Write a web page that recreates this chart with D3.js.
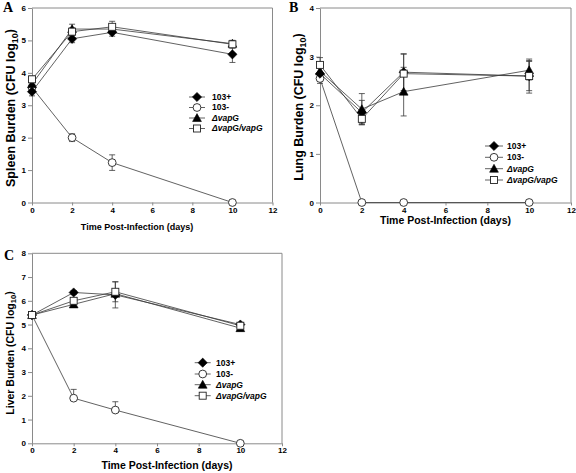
<!DOCTYPE html>
<html>
<head>
<meta charset="utf-8">
<script src="https://cdn.jsdelivr.net/npm/d3@7"></script>
<style>
  html, body { margin: 0; padding: 0; background: #fff; }
  svg { display: block; }
  text { font-family: "Liberation Sans", Arial, sans-serif; font-weight: bold; fill: #000; }
</style>
</head>
<body>
<svg id="chart" width="576" height="473"></svg>
<script>
// ---------- data ----------
const days = [0, 2, 4, 10];
const xTicks = [0, 2, 4, 6, 8, 10, 12];
const seriesNames = ["103+", "103-", "\u0394vapG", "\u0394vapG/vapG"];

// Spleen (panel A)
const spleenPlus = [3.42, 5.05, 5.25, 4.57];
const spleenPlusErr = [0.13, 0.12, 0.12, 0.25];
const spleenMinus = [3.55, 2.0, 1.23, 0];
const spleenMinusErr = [0.08, 0.12, 0.24, 0];
const spleenDel = [3.65, 5.35, 5.35, 4.9];
const spleenDelErr = [0.1, 0.15, 0.1, 0.1];
const spleenComp = [3.8, 5.27, 5.42, 4.88];
const spleenCompErr = [0.1, 0.12, 0.17, 0.12];
const spleenYTicks = [0, 1, 2, 3, 4, 5, 6];

// Lung (panel B)
const lungPlus = [2.65, 1.85, 2.68, 2.6];
const lungPlusErr = [0.15, 0.25, 0.38, 0.3];
const lungMinus = [2.55, 0, 0, 0];
const lungMinusErr = [0.1, 0, 0, 0];
const lungDel = [2.7, 1.92, 2.28, 2.72];
const lungDelErr = [0.12, 0.32, 0.5, 0.2];
const lungComp = [2.83, 1.72, 2.65, 2.6];
const lungCompErr = [0.15, 0.1, 0.4, 0.35];
const lungYTicks = [0, 1, 2, 3, 4];

// Liver (panel C)
const liverPlus = [5.4, 6.35, 6.25, 5.0];
const liverPlusErr = [0.08, 0.08, 0.55, 0.08];
const liverMinus = [5.4, 1.9, 1.4, 0];
const liverMinusErrUp = [0.08, 0.37, 0.35, 0];
const liverMinusErrDown = [0.08, 0, 0, 0];
const liverDel = [5.4, 5.85, 6.3, 4.85];
const liverDelErr = [0.08, 0.08, 0.1, 0.12];
const liverComp = [5.4, 6.0, 6.38, 4.95];
const liverCompErr = [0.08, 0.1, 0.42, 0.12];
const liverYTicks = [0, 1, 2, 3, 4, 5, 6, 7, 8];

// ---------- drawing ----------
const svg = d3.select("#chart");
const LINE = "#3a3a3a";
const AXIS = "#8a8a8a";

function marker(g, type, x, y) {
  if (type === 0) {
    const s = 4.6;
    g.append("path").attr("d", `M${x},${y - s}L${x + s},${y}L${x},${y + s}L${x - s},${y}Z`)
      .attr("fill", "#000").attr("stroke", "#000").attr("stroke-width", 0.6);
  } else if (type === 1) {
    g.append("circle").attr("cx", x).attr("cy", y).attr("r", 3.9)
      .attr("fill", "#fff").attr("stroke", "#222").attr("stroke-width", 0.9);
  } else if (type === 2) {
    const s = 4.4;
    g.append("path").attr("d", `M${x},${y - s}L${x + s},${y + s * 0.8}L${x - s},${y + s * 0.8}Z`)
      .attr("fill", "#000").attr("stroke", "#000").attr("stroke-width", 0.6);
  } else {
    const s = 3.5;
    g.append("rect").attr("x", x - s).attr("y", y - s).attr("width", 2 * s).attr("height", 2 * s)
      .attr("fill", "#fff").attr("stroke", "#222").attr("stroke-width", 0.9);
  }
}

function panel(cfg) {
  const x = d3.scaleLinear().domain([0, 12]).range([cfg.left, cfg.right]);
  const y = d3.scaleLinear().domain([0, cfg.yMax]).range([cfg.bottom, cfg.top]);
  const g = svg.append("g");

  // frame (top + right)
  g.append("path")
    .attr("d", `M${cfg.left},${cfg.top}H${cfg.right}V${cfg.bottom}`)
    .attr("fill", "none").attr("stroke", AXIS).attr("stroke-width", 1);

  // axes
  const xAxis = d3.axisBottom(x).tickValues(xTicks).tickFormat(d3.format("d"))
    .tickSize(3).tickSizeOuter(0).tickPadding(1.5);
  const gx = g.append("g").attr("transform", `translate(0,${cfg.bottom})`).call(xAxis);
  const yAxis = d3.axisLeft(y).tickValues(cfg.yTicks).tickFormat(d3.format("d"))
    .tickSize(4).tickSizeOuter(0).tickPadding(2);
  const gy = g.append("g").attr("transform", `translate(${cfg.left},0)`).call(yAxis);
  [gx, gy].forEach(a => {
    a.select(".domain").attr("stroke", AXIS).attr("stroke-width", 1);
    a.selectAll(".tick line").attr("stroke", AXIS).attr("stroke-width", 1);
    a.selectAll(".tick text").style("font-family", '"Liberation Sans", Arial, sans-serif')
      .style("font-weight", "bold").style("font-size", cfg.tickFont + "px").attr("fill", "#000");
  });

  // series lines
  const line = d3.line().x((d, i) => x(days[i])).y(d => y(d));
  cfg.series.forEach(s => {
    g.append("path").datum(s.v).attr("d", line)
      .attr("fill", "none").attr("stroke", LINE).attr("stroke-width", 0.8);
  });
  // error bars
  cfg.series.forEach(s => {
    s.v.forEach((v, i) => {
      const up = s.eu[i], dn = s.ed[i];
      if (up <= 0 && dn <= 0) return;
      const cx = x(days[i]);
      const y1 = y(v + up), y0 = y(v - dn);
      g.append("line").attr("x1", cx).attr("x2", cx).attr("y1", y1).attr("y2", y0)
        .attr("stroke", LINE).attr("stroke-width", 0.8);
      if (up > 0) g.append("line").attr("x1", cx - 3).attr("x2", cx + 3).attr("y1", y1).attr("y2", y1)
        .attr("stroke", LINE).attr("stroke-width", 0.8);
      if (dn > 0) g.append("line").attr("x1", cx - 3).attr("x2", cx + 3).attr("y1", y0).attr("y2", y0)
        .attr("stroke", LINE).attr("stroke-width", 0.8);
    });
  });
  // markers
  [1, 0, 2, 3].forEach(k => {
    const s = cfg.series[k];
    s.v.forEach((v, i) => marker(g, k, x(days[i]), y(v)));
  });

  // legend
  const L = cfg.legend;
  seriesNames.forEach((name, k) => {
    const ly = L.rows[k];
    g.append("line").attr("x1", L.mx - L.half).attr("x2", L.mx + L.half).attr("y1", ly).attr("y2", ly)
      .attr("stroke", LINE).attr("stroke-width", 0.8);
    marker(g, k, L.mx, ly);
    g.append("text").attr("x", L.tx).attr("y", ly).attr("dy", "0.35em")
      .style("font-size", L.font + "px")
      .style("font-style", k >= 2 ? "italic" : "normal")
      .text(name);
  });

  // axis titles
  g.append("text").attr("x", cfg.xtx).attr("y", cfg.xty).attr("text-anchor", "middle")
    .style("font-size", cfg.xtFont + "px").text("Time Post-Infection (days)");
  const yt = g.append("text").attr("transform", `translate(${cfg.ytx},${cfg.yty}) rotate(-90)`)
    .attr("text-anchor", "middle").style("font-size", cfg.ytFont + "px");
  yt.append("tspan").text(cfg.yTitle + " (CFU log");
  yt.append("tspan").attr("dy", "0.3em").style("font-size", (cfg.ytFont * 0.72) + "px").text("10");
  yt.append("tspan").attr("dy", "-0.3em").text(")");

  // panel letter
  g.append("text").attr("x", cfg.lx).attr("y", cfg.ly)
    .style("font-family", '"Liberation Serif", "Times New Roman", serif')
    .style("font-size", "14px").text(cfg.letter);
}

panel({
  left: 32, right: 272.5, top: 8, bottom: 202.5, yMax: 6, yTicks: spleenYTicks, tickFont: 8,
  series: [
    { v: spleenPlus, eu: spleenPlusErr, ed: spleenPlusErr },
    { v: spleenMinus, eu: spleenMinusErr, ed: spleenMinusErr },
    { v: spleenDel, eu: spleenDelErr, ed: spleenDelErr },
    { v: spleenComp, eu: spleenCompErr, ed: spleenCompErr }
  ],
  legend: { mx: 197, half: 8, tx: 212, rows: [97, 107.5, 118, 128.5], font: 8.5 },
  xtx: 137, xty: 229.5, xtFont: 9,
  ytx: 15, yty: 108, ytFont: 12.5, yTitle: "Spleen Burden",
  letter: "A", lx: 3, ly: 12
});

panel({
  left: 320, right: 571, top: 8, bottom: 202.5, yMax: 4, yTicks: lungYTicks, tickFont: 8,
  series: [
    { v: lungPlus, eu: lungPlusErr, ed: lungPlusErr },
    { v: lungMinus, eu: lungMinusErr, ed: lungMinusErr },
    { v: lungDel, eu: lungDelErr, ed: lungDelErr },
    { v: lungComp, eu: lungCompErr, ed: lungCompErr }
  ],
  legend: { mx: 494, half: 9, tx: 507, rows: [146, 157.3, 168.7, 180], font: 8.5 },
  xtx: 445.5, xty: 223.5, xtFont: 10.5,
  ytx: 303, yty: 107, ytFont: 12.5, yTitle: "Lung Burden",
  letter: "B", lx: 289, ly: 12
});

panel({
  left: 32, right: 282, top: 253.3, bottom: 443.3, yMax: 8, yTicks: liverYTicks, tickFont: 8,
  series: [
    { v: liverPlus, eu: liverPlusErr, ed: liverPlusErr },
    { v: liverMinus, eu: liverMinusErrUp, ed: liverMinusErrDown },
    { v: liverDel, eu: liverDelErr, ed: liverDelErr },
    { v: liverComp, eu: liverCompErr, ed: liverCompErr }
  ],
  legend: { mx: 202.7, half: 8, tx: 216, rows: [362.7, 374, 384.7, 395.7], font: 8.5 },
  xtx: 167, xty: 469, xtFont: 10.5,
  ytx: 14, yty: 353, ytFont: 10.5, yTitle: "Liver Burden",
  letter: "C", lx: 4, ly: 260
});
</script>
</body>
</html>
